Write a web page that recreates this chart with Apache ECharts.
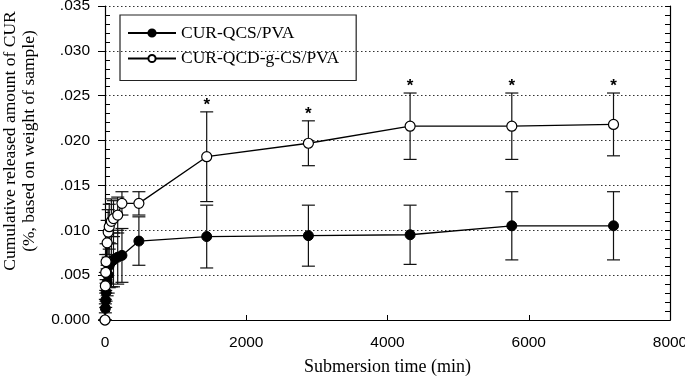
<!DOCTYPE html>
<html>
<head>
<meta charset="utf-8">
<script src="https://cdn.jsdelivr.net/npm/echarts@6/dist/echarts.min.js"></script>
<style>
  html, body { margin: 0; padding: 0; background: #fff; }
  #chart { width: 685px; height: 386px; }
</style>
</head>
<body>
<div id="chart"></div>
<script>
// sampling times (min)
const times = [0, 5, 10, 15, 30, 45, 60, 90, 120, 180, 240, 480, 1440, 2880, 4320, 5760, 7200];

// CUR-QCS/PVA (filled)
const qcsMean = [0, 0.0013, 0.0022, 0.0031, 0.0042, 0.0050, 0.0061, 0.0065, 0.0067, 0.0070, 0.0072, 0.0088, 0.0093, 0.0094, 0.0095, 0.0105, 0.0105];
const qcsErr  = [0, 0.0005, 0.0008, 0.0010, 0.0015, 0.0020, 0.0025, 0.0028, 0.0030, 0.0030, 0.0030, 0.0027, 0.0035, 0.0034, 0.0033, 0.0038, 0.0038];

// CUR-QCD-g-CS/PVA (open)
const qcdMean = [0, 0.0038, 0.0053, 0.0065, 0.0086, 0.0098, 0.0104, 0.0110, 0.0113, 0.0117, 0.0130, 0.0130, 0.0182, 0.0197, 0.0216, 0.0216, 0.0218];
const qcdErr  = [0, 0.0015, 0.0020, 0.0020, 0.0025, 0.0025, 0.0025, 0.0025, 0.0020, 0.0020, 0.0013, 0.0013, 0.0050, 0.0025, 0.0037, 0.0037, 0.0035];

// times marked with * (significant difference)
const sigTimes = [1440, 2880, 4320, 5760, 7200];

const seriesNames = ["CUR-QCS/PVA", "CUR-QCD-g-CS/PVA"];

const serif = "'Liberation Serif', 'Times New Roman', serif";
const sans = "'Liberation Sans', Arial, sans-serif";

const pts = (means) => times.map((t, i) => [t, means[i]]);
const errData = (means, errs) => times.map((t, i) => [t, means[i] - errs[i], means[i] + errs[i]]);

function errorBars(data) {
  return {
    type: "custom",
    z: 1,
    silent: true,
    data,
    encode: { x: 0, y: [1, 2] },
    renderItem: (params, api) => {
      const x = api.value(0);
      const lo = api.coord([x, api.value(1)]);
      const hi = api.coord([x, api.value(2)]);
      const w = 6.5;
      const style = { stroke: "#111", lineWidth: 1.2 };
      return {
        type: "group",
        children: [
          { type: "line", shape: { x1: lo[0], y1: lo[1], x2: hi[0], y2: hi[1] }, style },
          { type: "line", shape: { x1: lo[0] - w, y1: lo[1], x2: lo[0] + w, y2: lo[1] }, style },
          { type: "line", shape: { x1: hi[0] - w, y1: hi[1], x2: hi[0] + w, y2: hi[1] }, style },
        ],
      };
    },
  };
}

const chart = echarts.init(document.getElementById("chart"), null, { renderer: "canvas" });

const option = {
  animation: false,
  backgroundColor: "#fff",
  grid: { left: 105, right: 15, top: 6, bottom: 66, outerBoundsMode: "none", containLabel: false },
  legend: {
    left: 120,
    top: 15,
    orient: "vertical",
    data: seriesNames,
    itemWidth: 48,
    itemHeight: 9,
    itemGap: 7.5,
    padding: [9, 17, 13, 7],
    borderColor: "#222",
    borderWidth: 1.2,
    borderRadius: 0,
    textStyle: { fontFamily: serif, fontSize: 17.5, color: "#000" },
  },
  xAxis: [
    {
      type: "value",
      min: 0,
      max: 8000,
      interval: 2000,
      name: "Submersion time (min)",
      nameLocation: "middle",
      nameGap: 38,
      nameTextStyle: { fontFamily: serif, fontSize: 18, color: "#000" },
      axisLine: { lineStyle: { color: "#000", width: 1.2 } },
      axisTick: { inside: true, length: 5, lineStyle: { color: "#000" } },
      axisLabel: { fontFamily: sans, fontSize: 15.5, color: "#000", margin: 15, formatter: (v) => String(v) },
      splitLine: { show: false },
    },
    {
      type: "value",
      position: "top",
      min: 0,
      max: 8000,
      axisLine: { show: true, lineStyle: { color: "#000", width: 1.2 } },
      axisTick: { show: false },
      axisLabel: { show: false },
      splitLine: { show: false },
    },
  ],
  yAxis: [
    {
      type: "value",
      min: 0,
      max: 0.035,
      interval: 0.005,
      name: "Cumulative released amount of CUR\n(%, based on weight of sample)",
      nameLocation: "middle",
      nameGap: 66,
      nameTextStyle: { fontFamily: serif, fontSize: 17.5, color: "#000", lineHeight: 19, padding: [0, 0, 0, 44] },
      axisLine: { show: true, lineStyle: { color: "#000", width: 1.2 } },
      axisTick: { show: true, inside: false, length: 7, lineStyle: { color: "#000" } },
      axisLabel: {
        fontFamily: sans,
        fontSize: 15.5,
        color: "#000",
        margin: 15,
        formatter: (v) => (v === 0 ? "0.000" : v.toFixed(3).replace(/^0/, "")),
      },
      splitLine: { show: true, lineStyle: { color: "#333", type: [1.5, 2.5], width: 1 } },
    },
    {
      // inner minor ticks on the left
      type: "value",
      position: "left",
      min: 0,
      max: 0.035,
      interval: 0.005,
      axisLine: { show: false },
      axisTick: { show: false, inside: true },
      minorTick: { show: true, splitNumber: 5, length: 5, lineStyle: { color: "#000" } },
      axisLabel: { show: false },
      splitLine: { show: false },
    },
    {
      type: "value",
      position: "right",
      min: 0,
      max: 0.035,
      interval: 0.005,
      axisLine: { show: true, lineStyle: { color: "#000", width: 1.2 } },
      axisTick: { show: true, inside: true, length: 5, lineStyle: { color: "#000" } },
      minorTick: { show: true, splitNumber: 5, length: 5, lineStyle: { color: "#000" } },
      axisLabel: { show: false },
      splitLine: { show: false },
    },
  ],
  series: [
    errorBars(errData(qcsMean, qcsErr)),
    errorBars(errData(qcdMean, qcdErr)),
    {
      name: seriesNames[0],
      type: "line",
      z: 3,
      data: pts(qcsMean),
      symbol: "circle",
      symbolSize: 10,
      lineStyle: { color: "#000", width: 1.3 },
      itemStyle: { color: "#000", borderColor: "#000", borderWidth: 1 },
    },
    {
      name: seriesNames[1],
      type: "line",
      z: 4,
      data: pts(qcdMean),
      symbol: "circle",
      symbolSize: 10,
      lineStyle: { color: "#000", width: 1.3 },
      itemStyle: { color: "#fff", borderColor: "#000", borderWidth: 1.2 },
    },
    {
      // significance asterisks above the upper caps
      type: "custom",
      z: 5,
      silent: true,
      data: sigTimes.map((t) => {
        const i = times.indexOf(t);
        return [t, qcdMean[i] + qcdErr[i]];
      }),
      encode: { x: 0, y: 1 },
      renderItem: (params, api) => {
        const p = api.coord([api.value(0), api.value(1)]);
        return {
          type: "text",
          style: {
            text: "*",
            x: p[0],
            y: p[1] - 7,
            textAlign: "center",
            textVerticalAlign: "middle",
            font: "bold 17px " + sans,
            fill: "#000",
          },
        };
      },
    },
  ],
};

chart.setOption(option);
</script>
</body>
</html>
